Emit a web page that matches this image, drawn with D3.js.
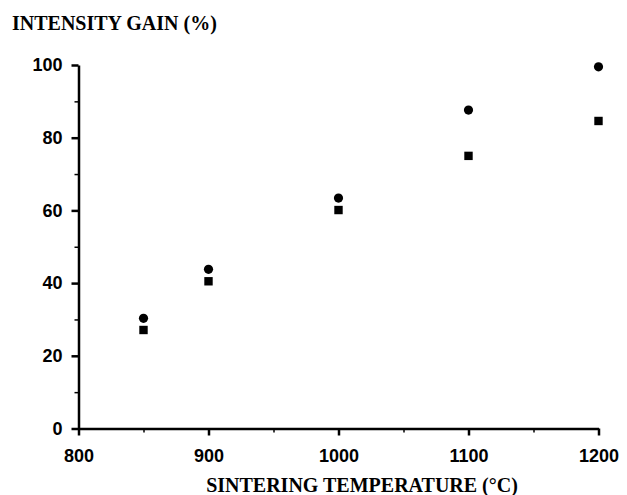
<!DOCTYPE html>
<html>
    <head>
        <meta charset="utf-8"/>
        <script src="https://d3js.org/d3.v7.min.js"></script>
        <style>
            body { margin: 0; background: #fff; }
        </style>
    </head>
    <body>
        <div id='output'></div>
        <script>
            //Sintering temperature (°C)
            var temps = [850, 900, 1000, 1100, 1200];
            //Intensity gain (%) - circles and squares
            var gainCircle = [30.3, 43.8, 63.4, 87.6, 99.5];
            var gainSquare = [27.1, 40.5, 60.1, 75.0, 84.6];
            var xTicks = [800, 900, 1000, 1100, 1200];
            var yTicks = [0, 20, 40, 60, 80, 100];

            var width = 627, height = 495;
            var svg = d3.select("#output")
                .append("svg")
                .attr("width", width)
                .attr("height", height);

            var x = d3.scaleLinear().domain([800, 1200]).range([78.5, 598.5]);
            var y = d3.scaleLinear().domain([0, 100]).range([428.5, 65]);

            var tickFont = "bold 18px 'Liberation Sans', Arial, sans-serif";
            var titleFont = "bold 20px 'Liberation Serif', 'Times New Roman', serif";

            //Minor ticks first
            svg.append("g")
                .attr("transform", "translate(0," + y(0) + ")")
                .call(d3.axisBottom(x).tickValues([850, 950, 1050, 1150]).tickSize(4).tickFormat(""))
                .call(function(g) { g.select(".domain").remove(); })
                .selectAll("line").attr("stroke-width", 1.5);
            svg.append("g")
                .attr("transform", "translate(" + x(800) + ",0)")
                .call(d3.axisLeft(y).tickValues([10, 30, 50, 70, 90]).tickSize(4).tickFormat(""))
                .call(function(g) { g.select(".domain").remove(); })
                .selectAll("line").attr("stroke-width", 1.5);

            //X axis
            var gx = svg.append("g")
                .attr("transform", "translate(0," + y(0) + ")")
                .call(d3.axisBottom(x).tickValues(xTicks).tickFormat(d3.format("d"))
                    .tickSize(7).tickSizeOuter(0).tickPadding(14));
            gx.select(".domain").attr("stroke-width", 2.5);
            gx.selectAll("line").attr("stroke-width", 2.5);
            gx.selectAll("text").style("font", tickFont).attr("fill", "#000");

            //Y axis
            var gy = svg.append("g")
                .attr("transform", "translate(" + x(800) + ",0)")
                .call(d3.axisLeft(y).tickValues(yTicks).tickFormat(d3.format("d"))
                    .tickSize(7).tickSizeOuter(0).tickPadding(9));
            gy.select(".domain").attr("stroke-width", 2.5);
            gy.selectAll("line").attr("stroke-width", 2.5);
            gy.selectAll("text").style("font", tickFont).attr("fill", "#000");

            //Circle markers
            svg.selectAll("circle.pt")
                .data(temps)
                .enter()
                .append("circle")
                    .attr("class", "pt")
                    .attr("cx", function(d) { return x(d); })
                    .attr("cy", function(d, i) { return y(gainCircle[i]); })
                    .attr("r", 4.6)
                    .attr("fill", "#000");

            //Square markers
            svg.selectAll("rect.pt")
                .data(temps)
                .enter()
                .append("rect")
                    .attr("class", "pt")
                    .attr("x", function(d) { return x(d) - 4.2; })
                    .attr("y", function(d, i) { return y(gainSquare[i]) - 4.2; })
                    .attr("width", 8.4)
                    .attr("height", 8.4)
                    .attr("fill", "#000");

            //Y axis title
            svg.append("text")
                .attr("x", 12)
                .attr("y", 30)
                .style("font", titleFont)
                .text("INTENSITY GAIN (%)");

            //X axis title
            svg.append("text")
                .attr("x", 362)
                .attr("y", 492)
                .attr("text-anchor", "middle")
                .style("font", titleFont)
                .text("SINTERING TEMPERATURE (°C)");
        </script>
    </body>
</html>
